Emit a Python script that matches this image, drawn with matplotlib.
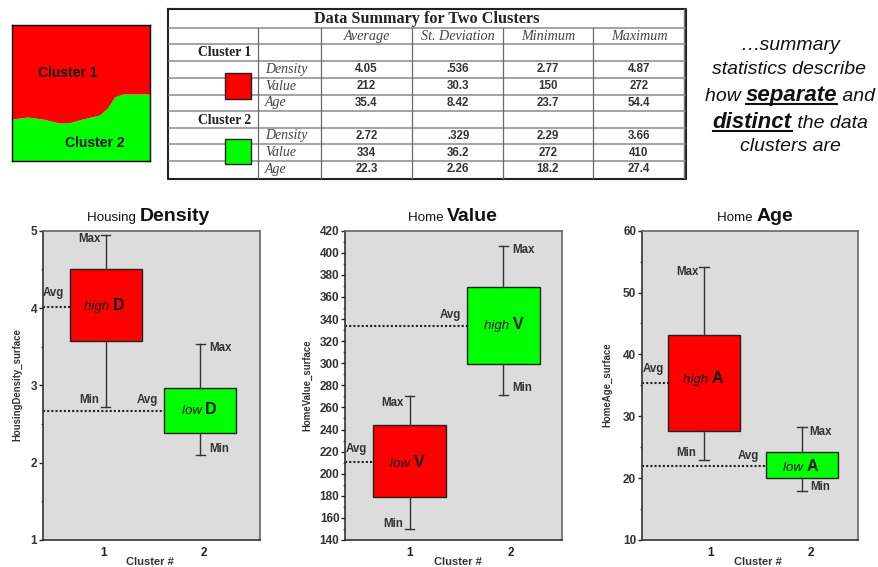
import matplotlib
matplotlib.use('Agg')
import matplotlib.pyplot as plt

W, H = 879, 567
plt.rcParams['font.family'] = ['Liberation Sans', 'DejaVu Sans']

# Box values, per panel, cluster 1 then cluster 2
density_low = [3.57, 2.39]
density_high = [4.50, 2.97]
density_min = [2.72, 2.10]
density_max = [4.95, 3.53]
density_avg = [4.01, 2.67]

value_low = [179, 299]
value_high = [244, 369]
value_min = [149.6, 271]
value_max = [270, 406]
value_avg = [211, 334]

age_low = [27.7, 20.0]
age_high = [43.1, 24.2]
age_min = [23.0, 17.9]
age_max = [54.2, 28.2]
age_avg = [35.4, 21.9]

cluster_colors = ['#ff0000', '#00ff00']
tick_names = ['1', '2']

# Table contents
table_title = 'Data Summary for Two Clusters'
col_names = ['Average', 'St. Deviation', 'Minimum', 'Maximum']
row_names = ['Density', 'Value', 'Age']
cluster1_rows = [['4.05', '.536', '2.77', '4.87'],
                 ['212', '30.3', '150', '272'],
                 ['35.4', '8.42', '23.7', '54.4']]
cluster2_rows = [['2.72', '.329', '2.29', '3.66'],
                 ['334', '36.2', '272', '410'],
                 ['22.3', '2.26', '18.2', '27.4']]

# Cluster map boundary, left to right
map_x = [0, 15, 30, 47, 57, 70, 87, 95, 102, 110, 118, 137]
map_y = [42, 44, 42, 38, 38.3, 42, 46, 53, 64, 67, 67, 67]

fig = plt.figure(figsize=(W / 100, H / 100), dpi=100)


def px_axes(left, top, right, bottom):
    return fig.add_axes([left / W, 1 - bottom / H, (right - left) / W, (bottom - top) / H])


# Overlay in pixel coordinates, for all the free text and the table
ov = fig.add_axes([0, 0, 1, 1], zorder=5)
ov.set_xlim(0, W)
ov.set_ylim(H, 0)
ov.axis('off')
ov.patch.set_visible(False)


def mixed(xc, y, pieces):
    # pieces: (text, size, weight, style, underlined)
    rend = fig.canvas.get_renderer()
    arts = []
    total = 0
    for txt, size, weight, style, ul in pieces:
        t = ov.text(0, y, txt, fontsize=size, fontweight=weight, fontstyle=style,
                    ha='left', va='baseline', color='#111111')
        w = t.get_window_extent(rend).width
        arts.append((t, w, ul))
        total += w
    x = xc - total / 2
    for t, w, ul in arts:
        t.set_x(x)
        if ul:
            ov.plot([x, x + w], [y + 3, y + 3], color='#111111', lw=1.5)
        x += w


# Cluster map
am = px_axes(12.5, 25, 149.5, 161)
am.set_xlim(0, 137)
am.set_ylim(0, 136)
am.fill_between(map_x, 0, map_y, color='#00ff00', lw=0)
am.fill_between(map_x, map_y, 136, color='#ff0000', lw=0)
am.set_xticks([])
am.set_yticks([])
for s in am.spines.values():
    s.set_linewidth(1)
ov.text(68, 73, 'Cluster 1', fontsize=10, fontweight='bold', ha='center', va='center', color='#111111')
ov.text(94.5, 143, 'Cluster 2', fontsize=10, fontweight='bold', ha='center', va='center', color='#111111')

# Summary table
row_lines = [28, 44, 61, 78, 95, 111, 128, 144, 161]
col_lines = [258, 321, 412, 503, 593]
col_mid = [366.5, 458, 548, 639]
ov.plot([168, 686, 686, 168, 168], [8.5, 8.5, 179, 179, 8.5], color='#222222', lw=1.5)
ov.plot([684.5, 684.5], [9, 178], color='#777777', lw=1)
for yy in row_lines:
    ov.plot([169, 685], [yy, yy], color='#8a8a8a', lw=1.1)
for xx in col_lines:
    ov.plot([xx, xx], [28, 178], color='#6a6a6a', lw=0.9)
ov.text(426.5, 19, table_title, family='Liberation Serif', fontsize=11.7, fontweight='bold',
        ha='center', va='center', color='#222222')
for xx, name in zip(col_mid, col_names):
    ov.text(xx, 36.5, name, family='Liberation Serif', fontsize=10.2, fontstyle='italic',
            ha='center', va='center', color='#444444')
for yy, name in zip([53, 120], ['Cluster 1', 'Cluster 2']):
    ov.text(225, yy, name, family='Liberation Serif', fontsize=9.8, fontweight='bold',
            ha='center', va='center', color='#222222')
for y0, rows in zip([69.5, 136], [cluster1_rows, cluster2_rows]):
    for i, row in enumerate(rows):
        yy = y0 + i * 16.6
        ov.text(265, yy, row_names[i], family='Liberation Serif', fontsize=10, fontstyle='italic',
                ha='left', va='center', color='#444444')
        for xx, val in zip(col_mid, row):
            ov.text(xx, yy, val, fontsize=8.3, fontweight='bold', ha='center', va='center', color='#333333')
for yy, hh, c in zip([73.3, 139], [25.7, 24.5], cluster_colors):
    ov.add_patch(plt.Rectangle((225, yy), 25.7, hh, facecolor=c, edgecolor='#222222', lw=1, zorder=4))

# Side note
mixed(790, 49.5, [('\u2026summary', 14, 'normal', 'italic', False)])
mixed(789, 74, [('statistics describe', 14, 'normal', 'italic', False)])
mixed(790, 100.7, [('how ', 14, 'normal', 'italic', False),
                   ('separate', 16, 'bold', 'italic', True),
                   (' and', 14, 'normal', 'italic', False)])
mixed(790, 128, [('distinct', 16, 'bold', 'italic', True),
                 (' the data', 14, 'normal', 'italic', False)])
mixed(790, 150.7, [('clusters are', 14, 'normal', 'italic', False)])

# Panels
panels = [
    dict(box=(42.5, 260), low=density_low, high=density_high, lo=density_min, hi=density_max, avg=density_avg,
         ylim=(1, 5), major=[1, 2, 3, 4, 5], minor=[1.5, 2.5, 3.5, 4.5], xlim=(0.332, 2.631), width=0.76,
         tickx=[0.975, 2.036], ylabel='HousingDensity_surface', ylabel_x=17, xlabel_x=150,
         title=('Housing ', 'Density'), title_x=149,
         inner=[('high ', 'D', 104, 306), ('low ', 'D', 199.3, 410)],
         notes=[('Max', 89.7, 238.7), ('Avg', 53.7, 293.3), ('Min', 88.7, 399.7),
                ('Avg', 147.3, 400), ('Max', 220.3, 348), ('Min', 219, 449.3)]),
    dict(box=(345, 562.3), low=value_low, high=value_high, lo=value_min, hi=value_max, avg=value_avg,
         ylim=(140, 420), major=list(range(140, 421, 20)), minor=list(range(150, 420, 20)), xlim=(0.309, 2.63),
         width=0.777, tickx=[1.003, 2.082], ylabel='HomeValue_surface', ylabel_x=307, xlabel_x=458,
         title=('Home ', 'Value'), title_x=453,
         inner=[('low ', 'V', 407.3, 462.7), ('high ', 'V', 503.7, 325)],
         notes=[('Max', 392.7, 402.7), ('Avg', 356.7, 448.7), ('Min', 392.7, 524.3),
                ('Avg', 450.3, 315), ('Max', 523.3, 249.7), ('Min', 522.3, 387.7)]),
    dict(box=(641.7, 857.7), low=age_low, high=age_high, lo=age_min, hi=age_max, avg=age_avg,
         ylim=(10, 60), major=[10, 20, 30, 40, 50, 60], minor=[15, 25, 35, 45, 55], xlim=(0.357, 2.575), width=0.739,
         tickx=[1.066, 2.095], ylabel='HomeAge_surface', ylabel_x=607, xlabel_x=758,
         title=('Home ', 'Age'), title_x=755,
         inner=[('high ', 'A', 702.7, 379), ('low ', 'A', 801, 467)],
         notes=[('Max', 687.3, 272.3), ('Avg', 653, 369), ('Min', 686.3, 453),
                ('Avg', 748.7, 456.3), ('Max', 820.7, 431.7), ('Min', 819.7, 487)]),
]

for p in panels:
    ax = px_axes(p['box'][0], 230.7, p['box'][1], 540)
    ax.set_facecolor('#dcdcdc')
    stats = []
    for i in range(2):
        stats.append(dict(q1=p['low'][i], q3=p['high'][i], med=p['low'][i],
                          whislo=p['lo'][i], whishi=p['hi'][i], fliers=[]))
    res = ax.bxp(stats, positions=[1, 2], widths=p['width'], patch_artist=True, showfliers=False,
                 capwidths=0.1, medianprops=dict(linewidth=0),
                 boxprops=dict(linewidth=1, edgecolor='#222222'),
                 whiskerprops=dict(linewidth=1, color='#333333'),
                 capprops=dict(linewidth=1, color='#333333'), zorder=3)
    for patch, c in zip(res['boxes'], cluster_colors):
        patch.set_facecolor(c)
    for i in range(2):
        ax.plot([p['xlim'][0], i + 1 - p['width'] / 2], [p['avg'][i], p['avg'][i]],
                color='#222222', lw=1.5, ls=(0, (1, 1)), zorder=2)
    ax.set_xlim(*p['xlim'])
    ax.set_ylim(*p['ylim'])
    ax.set_xticks(p['tickx'])
    ax.set_xticklabels(tick_names, fontsize=8.5, fontweight='bold', color='#222222')
    ax.tick_params(axis='x', length=0, pad=5)
    ax.set_yticks(p['major'])
    ax.set_yticks(p['minor'], minor=True)
    ax.set_yticklabels([str(v) for v in p['major']], fontsize=8.5, fontweight='bold', color='#333333')
    ax.tick_params(axis='y', which='major', length=3, width=1, pad=1, color='#222222')
    ax.tick_params(axis='y', which='minor', length=1.5, width=1, color='#555555')
    for s in ['top', 'right']:
        ax.spines[s].set_color('#666666')
    for s in ['left', 'bottom']:
        ax.spines[s].set_color('#333333')
    for s in ax.spines.values():
        s.set_linewidth(1.2)

    ov.text(p['ylabel_x'], 385, p['ylabel'], rotation=90, fontsize=6.9,
            fontweight='bold', ha='center', va='center', color='#333333')
    ov.text(p['xlabel_x'], 562, 'Cluster #', fontsize=8, fontweight='bold', ha='center', va='center', color='#333333')
    mixed(p['title_x'], 221, [(p['title'][0], 9.6, 'normal', 'normal', False),
                              (p['title'][1], 14, 'bold', 'normal', False)])
    for a, b, xx, yy in p['inner']:
        mixed(xx, yy + 4, [(a, 9.5, 'normal', 'italic', False), (b, 11.5, 'bold', 'normal', False)])
    for txt, xx, yy in p['notes']:
        ov.text(xx, yy, txt, fontsize=8.3, fontweight='bold', ha='center', va='center', color='#333333')

fig.savefig('out.png', dpi=100)
